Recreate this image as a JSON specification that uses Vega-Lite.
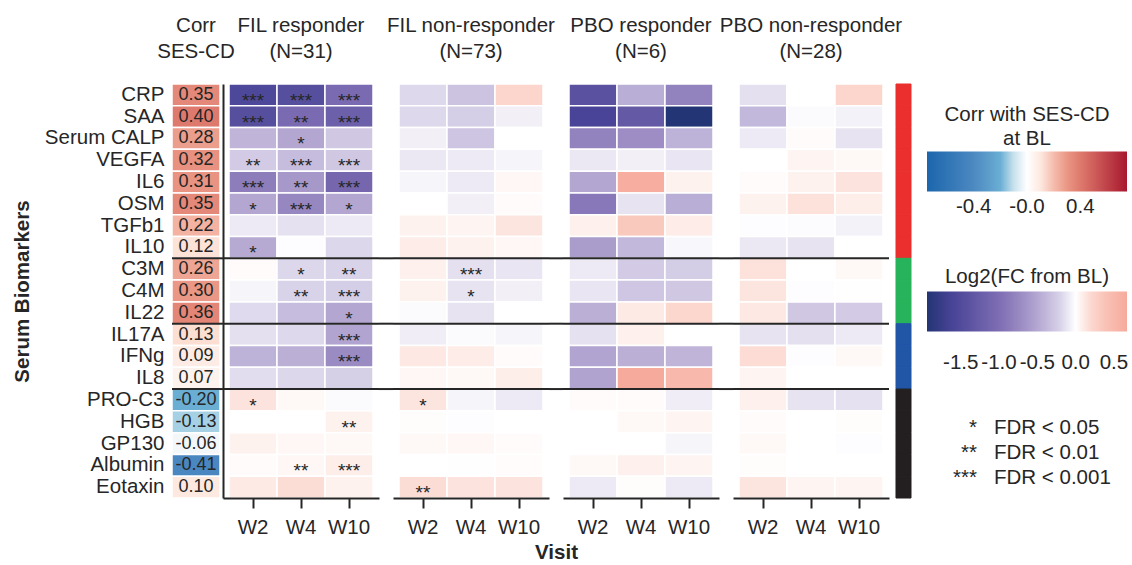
{
"$schema": "https://vega.github.io/schema/vega-lite/v6.json",
"padding": {"left": 12, "top": 15, "right": 0, "bottom": 0},
"datasets": {
"markers": [
{"marker":"CRP","corr":0.35,"group":"Group 1"},
{"marker":"SAA","corr":0.40,"group":"Group 1"},
{"marker":"Serum CALP","corr":0.28,"group":"Group 1"},
{"marker":"VEGFA","corr":0.32,"group":"Group 1"},
{"marker":"IL6","corr":0.31,"group":"Group 1"},
{"marker":"OSM","corr":0.35,"group":"Group 1"},
{"marker":"TGFb1","corr":0.22,"group":"Group 1"},
{"marker":"IL10","corr":0.12,"group":"Group 1"},
{"marker":"C3M","corr":0.26,"group":"Group 2"},
{"marker":"C4M","corr":0.30,"group":"Group 2"},
{"marker":"IL22","corr":0.36,"group":"Group 2"},
{"marker":"IL17A","corr":0.13,"group":"Group 3"},
{"marker":"IFNg","corr":0.09,"group":"Group 3"},
{"marker":"IL8","corr":0.07,"group":"Group 3"},
{"marker":"PRO-C3","corr":-0.20,"group":"Group 4"},
{"marker":"HGB","corr":-0.13,"group":"Group 4"},
{"marker":"GP130","corr":-0.06,"group":"Group 4"},
{"marker":"Albumin","corr":-0.41,"group":"Group 4"},
{"marker":"Eotaxin","corr":0.10,"group":"Group 4"}
],
"fil_r": [
{"marker":"CRP","visit":"W2","log2fc":-1.55,"fdr":"***"},{"marker":"CRP","visit":"W4","log2fc":-1.45,"fdr":"***"},{"marker":"CRP","visit":"W10","log2fc":-1.05,"fdr":"***"},
{"marker":"SAA","visit":"W2","log2fc":-1.45,"fdr":"***"},{"marker":"SAA","visit":"W4","log2fc":-1.05,"fdr":"**"},{"marker":"SAA","visit":"W10","log2fc":-1.2,"fdr":"***"},
{"marker":"Serum CALP","visit":"W2","log2fc":-0.4},{"marker":"Serum CALP","visit":"W4","log2fc":-0.5,"fdr":"*"},{"marker":"Serum CALP","visit":"W10","log2fc":-0.27},
{"marker":"VEGFA","visit":"W2","log2fc":-0.25,"fdr":"**"},{"marker":"VEGFA","visit":"W4","log2fc":-0.35,"fdr":"***"},{"marker":"VEGFA","visit":"W10","log2fc":-0.27,"fdr":"***"},
{"marker":"IL6","visit":"W2","log2fc":-0.85,"fdr":"***"},{"marker":"IL6","visit":"W4","log2fc":-0.62,"fdr":"**"},{"marker":"IL6","visit":"W10","log2fc":-1.1,"fdr":"***"},
{"marker":"OSM","visit":"W2","log2fc":-0.5,"fdr":"*"},{"marker":"OSM","visit":"W4","log2fc":-0.75,"fdr":"***"},{"marker":"OSM","visit":"W10","log2fc":-0.5,"fdr":"*"},
{"marker":"TGFb1","visit":"W2","log2fc":-0.08},{"marker":"TGFb1","visit":"W4","log2fc":-0.12},{"marker":"TGFb1","visit":"W10","log2fc":-0.08},
{"marker":"IL10","visit":"W2","log2fc":-0.48,"fdr":"*"},{"marker":"IL10","visit":"W4","log2fc":-0.01},{"marker":"IL10","visit":"W10","log2fc":-0.18},
{"marker":"C3M","visit":"W2","log2fc":0.02},{"marker":"C3M","visit":"W4","log2fc":-0.18,"fdr":"*"},{"marker":"C3M","visit":"W10","log2fc":-0.2,"fdr":"**"},
{"marker":"C4M","visit":"W2","log2fc":-0.04},{"marker":"C4M","visit":"W4","log2fc":-0.2,"fdr":"**"},{"marker":"C4M","visit":"W10","log2fc":-0.23,"fdr":"***"},
{"marker":"IL22","visit":"W2","log2fc":-0.16},{"marker":"IL22","visit":"W4","log2fc":-0.35},{"marker":"IL22","visit":"W10","log2fc":-0.5,"fdr":"*"},
{"marker":"IL17A","visit":"W2","log2fc":-0.13},{"marker":"IL17A","visit":"W4","log2fc":-0.17},{"marker":"IL17A","visit":"W10","log2fc":-0.52,"fdr":"***"},
{"marker":"IFNg","visit":"W2","log2fc":-0.42},{"marker":"IFNg","visit":"W4","log2fc":-0.44},{"marker":"IFNg","visit":"W10","log2fc":-0.72,"fdr":"***"},
{"marker":"IL8","visit":"W2","log2fc":-0.15},{"marker":"IL8","visit":"W4","log2fc":-0.18},{"marker":"IL8","visit":"W10","log2fc":-0.22},
{"marker":"PRO-C3","visit":"W2","log2fc":0.14,"fdr":"*"},{"marker":"PRO-C3","visit":"W4","log2fc":0.03},{"marker":"PRO-C3","visit":"W10","log2fc":-0.02},
{"marker":"HGB","visit":"W2","log2fc":0.0},{"marker":"HGB","visit":"W4","log2fc":0.0},{"marker":"HGB","visit":"W10","log2fc":0.06,"fdr":"**"},
{"marker":"GP130","visit":"W2","log2fc":0.06},{"marker":"GP130","visit":"W4","log2fc":0.04},{"marker":"GP130","visit":"W10","log2fc":0.03},
{"marker":"Albumin","visit":"W2","log2fc":0.02},{"marker":"Albumin","visit":"W4","log2fc":0.04,"fdr":"**"},{"marker":"Albumin","visit":"W10","log2fc":0.08,"fdr":"***"},
{"marker":"Eotaxin","visit":"W2","log2fc":0.1},{"marker":"Eotaxin","visit":"W4","log2fc":0.17},{"marker":"Eotaxin","visit":"W10","log2fc":0.06}
],
"fil_nr": [
{"marker":"CRP","visit":"W2","log2fc":-0.17},{"marker":"CRP","visit":"W4","log2fc":-0.3},{"marker":"CRP","visit":"W10","log2fc":0.22},
{"marker":"SAA","visit":"W2","log2fc":-0.17},{"marker":"SAA","visit":"W4","log2fc":-0.23},{"marker":"SAA","visit":"W10","log2fc":-0.06},
{"marker":"Serum CALP","visit":"W2","log2fc":-0.06},{"marker":"Serum CALP","visit":"W4","log2fc":-0.29},{"marker":"Serum CALP","visit":"W10","log2fc":0.0},
{"marker":"VEGFA","visit":"W2","log2fc":-0.09},{"marker":"VEGFA","visit":"W4","log2fc":-0.08},{"marker":"VEGFA","visit":"W10","log2fc":-0.04},
{"marker":"IL6","visit":"W2","log2fc":-0.04},{"marker":"IL6","visit":"W4","log2fc":-0.08},{"marker":"IL6","visit":"W10","log2fc":0.04},
{"marker":"OSM","visit":"W2","log2fc":0.0},{"marker":"OSM","visit":"W4","log2fc":-0.06},{"marker":"OSM","visit":"W10","log2fc":0.02},
{"marker":"TGFb1","visit":"W2","log2fc":0.06},{"marker":"TGFb1","visit":"W4","log2fc":0.05},{"marker":"TGFb1","visit":"W10","log2fc":0.13},
{"marker":"IL10","visit":"W2","log2fc":0.09},{"marker":"IL10","visit":"W4","log2fc":0.06},{"marker":"IL10","visit":"W10","log2fc":0.04},
{"marker":"C3M","visit":"W2","log2fc":0.07},{"marker":"C3M","visit":"W4","log2fc":-0.13,"fdr":"***"},{"marker":"C3M","visit":"W10","log2fc":-0.1},
{"marker":"C4M","visit":"W2","log2fc":0.06},{"marker":"C4M","visit":"W4","log2fc":-0.11,"fdr":"*"},{"marker":"C4M","visit":"W10","log2fc":-0.06},
{"marker":"IL22","visit":"W2","log2fc":-0.02},{"marker":"IL22","visit":"W4","log2fc":-0.11},{"marker":"IL22","visit":"W10","log2fc":0.0},
{"marker":"IL17A","visit":"W2","log2fc":-0.07},{"marker":"IL17A","visit":"W4","log2fc":-0.02},{"marker":"IL17A","visit":"W10","log2fc":-0.04},
{"marker":"IFNg","visit":"W2","log2fc":0.11},{"marker":"IFNg","visit":"W4","log2fc":0.09},{"marker":"IFNg","visit":"W10","log2fc":0.02},
{"marker":"IL8","visit":"W2","log2fc":0.04},{"marker":"IL8","visit":"W4","log2fc":0.03},{"marker":"IL8","visit":"W10","log2fc":0.08},
{"marker":"PRO-C3","visit":"W2","log2fc":0.13,"fdr":"*"},{"marker":"PRO-C3","visit":"W4","log2fc":-0.04},{"marker":"PRO-C3","visit":"W10","log2fc":-0.08},
{"marker":"HGB","visit":"W2","log2fc":0.01},{"marker":"HGB","visit":"W4","log2fc":-0.01},{"marker":"HGB","visit":"W10","log2fc":0.0},
{"marker":"GP130","visit":"W2","log2fc":0.03},{"marker":"GP130","visit":"W4","log2fc":0.04},{"marker":"GP130","visit":"W10","log2fc":0.02},
{"marker":"Albumin","visit":"W2","log2fc":0.0},{"marker":"Albumin","visit":"W4","log2fc":-0.005},{"marker":"Albumin","visit":"W10","log2fc":0.015},
{"marker":"Eotaxin","visit":"W2","log2fc":0.17,"fdr":"**"},{"marker":"Eotaxin","visit":"W4","log2fc":0.14},{"marker":"Eotaxin","visit":"W10","log2fc":0.14}
],
"pbo_r": [
{"marker":"CRP","visit":"W2","log2fc":-1.4},{"marker":"CRP","visit":"W4","log2fc":-0.45},{"marker":"CRP","visit":"W10","log2fc":-0.8},
{"marker":"SAA","visit":"W2","log2fc":-1.6},{"marker":"SAA","visit":"W4","log2fc":-1.3},{"marker":"SAA","visit":"W10","log2fc":-1.94},
{"marker":"Serum CALP","visit":"W2","log2fc":-0.8},{"marker":"Serum CALP","visit":"W4","log2fc":-0.7},{"marker":"Serum CALP","visit":"W10","log2fc":-0.42},
{"marker":"VEGFA","visit":"W2","log2fc":-0.09},{"marker":"VEGFA","visit":"W4","log2fc":-0.06},{"marker":"VEGFA","visit":"W10","log2fc":-0.1},
{"marker":"IL6","visit":"W2","log2fc":-0.5},{"marker":"IL6","visit":"W4","log2fc":0.62},{"marker":"IL6","visit":"W10","log2fc":0.06},
{"marker":"OSM","visit":"W2","log2fc":-0.9},{"marker":"OSM","visit":"W4","log2fc":-0.11},{"marker":"OSM","visit":"W10","log2fc":-0.45},
{"marker":"TGFb1","visit":"W2","log2fc":0.07},{"marker":"TGFb1","visit":"W4","log2fc":0.3},{"marker":"TGFb1","visit":"W10","log2fc":0.09},
{"marker":"IL10","visit":"W2","log2fc":-0.58},{"marker":"IL10","visit":"W4","log2fc":-0.38},{"marker":"IL10","visit":"W10","log2fc":-0.03},
{"marker":"C3M","visit":"W2","log2fc":-0.08},{"marker":"C3M","visit":"W4","log2fc":-0.25},{"marker":"C3M","visit":"W10","log2fc":-0.24},
{"marker":"C4M","visit":"W2","log2fc":-0.1},{"marker":"C4M","visit":"W4","log2fc":-0.28},{"marker":"C4M","visit":"W10","log2fc":-0.27},
{"marker":"IL22","visit":"W2","log2fc":-0.44},{"marker":"IL22","visit":"W4","log2fc":0.1},{"marker":"IL22","visit":"W10","log2fc":0.21},
{"marker":"IL17A","visit":"W2","log2fc":-0.12},{"marker":"IL17A","visit":"W4","log2fc":0.07},{"marker":"IL17A","visit":"W10","log2fc":0.0},
{"marker":"IFNg","visit":"W2","log2fc":-0.52},{"marker":"IFNg","visit":"W4","log2fc":-0.44},{"marker":"IFNg","visit":"W10","log2fc":-0.4},
{"marker":"IL8","visit":"W2","log2fc":-0.53},{"marker":"IL8","visit":"W4","log2fc":0.67},{"marker":"IL8","visit":"W10","log2fc":0.5},
{"marker":"PRO-C3","visit":"W2","log2fc":0.02},{"marker":"PRO-C3","visit":"W4","log2fc":0.02},{"marker":"PRO-C3","visit":"W10","log2fc":-0.07},
{"marker":"HGB","visit":"W2","log2fc":0.0},{"marker":"HGB","visit":"W4","log2fc":0.03},{"marker":"HGB","visit":"W10","log2fc":0.05},
{"marker":"GP130","visit":"W2","log2fc":0.0},{"marker":"GP130","visit":"W4","log2fc":0.0},{"marker":"GP130","visit":"W10","log2fc":-0.04},
{"marker":"Albumin","visit":"W2","log2fc":0.03},{"marker":"Albumin","visit":"W4","log2fc":0.07},{"marker":"Albumin","visit":"W10","log2fc":0.05},
{"marker":"Eotaxin","visit":"W2","log2fc":-0.08},{"marker":"Eotaxin","visit":"W4","log2fc":0.01},{"marker":"Eotaxin","visit":"W10","log2fc":-0.08}
],
"pbo_nr": [
{"marker":"CRP","visit":"W2","log2fc":-0.13},{"marker":"CRP","visit":"W4","log2fc":0.0},{"marker":"CRP","visit":"W10","log2fc":0.22},
{"marker":"SAA","visit":"W2","log2fc":-0.38},{"marker":"SAA","visit":"W4","log2fc":-0.02},{"marker":"SAA","visit":"W10","log2fc":-0.05},
{"marker":"Serum CALP","visit":"W2","log2fc":-0.08},{"marker":"Serum CALP","visit":"W4","log2fc":0.02},{"marker":"Serum CALP","visit":"W10","log2fc":-0.11},
{"marker":"VEGFA","visit":"W2","log2fc":0.0},{"marker":"VEGFA","visit":"W4","log2fc":0.05},{"marker":"VEGFA","visit":"W10","log2fc":0.03},
{"marker":"IL6","visit":"W2","log2fc":0.02},{"marker":"IL6","visit":"W4","log2fc":0.06},{"marker":"IL6","visit":"W10","log2fc":0.14},
{"marker":"OSM","visit":"W2","log2fc":0.06},{"marker":"OSM","visit":"W4","log2fc":0.15},{"marker":"OSM","visit":"W10","log2fc":0.08},
{"marker":"TGFb1","visit":"W2","log2fc":-0.01},{"marker":"TGFb1","visit":"W4","log2fc":-0.015},{"marker":"TGFb1","visit":"W10","log2fc":-0.05},
{"marker":"IL10","visit":"W2","log2fc":-0.09},{"marker":"IL10","visit":"W4","log2fc":-0.11},{"marker":"IL10","visit":"W10","log2fc":0.0},
{"marker":"C3M","visit":"W2","log2fc":0.15},{"marker":"C3M","visit":"W4","log2fc":0.0},{"marker":"C3M","visit":"W10","log2fc":0.03},
{"marker":"C4M","visit":"W2","log2fc":0.13},{"marker":"C4M","visit":"W4","log2fc":-0.01},{"marker":"C4M","visit":"W10","log2fc":0.005},
{"marker":"IL22","visit":"W2","log2fc":0.11},{"marker":"IL22","visit":"W4","log2fc":-0.27},{"marker":"IL22","visit":"W10","log2fc":-0.25},
{"marker":"IL17A","visit":"W2","log2fc":-0.11},{"marker":"IL17A","visit":"W4","log2fc":-0.13},{"marker":"IL17A","visit":"W10","log2fc":-0.08},
{"marker":"IFNg","visit":"W2","log2fc":0.18},{"marker":"IFNg","visit":"W4","log2fc":-0.01},{"marker":"IFNg","visit":"W10","log2fc":0.03},
{"marker":"IL8","visit":"W2","log2fc":0.05},{"marker":"IL8","visit":"W4","log2fc":0.0},{"marker":"IL8","visit":"W10","log2fc":0.0},
{"marker":"PRO-C3","visit":"W2","log2fc":0.07},{"marker":"PRO-C3","visit":"W4","log2fc":-0.11},{"marker":"PRO-C3","visit":"W10","log2fc":-0.12},
{"marker":"HGB","visit":"W2","log2fc":0.02},{"marker":"HGB","visit":"W4","log2fc":0.0},{"marker":"HGB","visit":"W10","log2fc":0.01},
{"marker":"GP130","visit":"W2","log2fc":0.03},{"marker":"GP130","visit":"W4","log2fc":0.0},{"marker":"GP130","visit":"W10","log2fc":-0.01},
{"marker":"Albumin","visit":"W2","log2fc":0.01},{"marker":"Albumin","visit":"W4","log2fc":0.0},{"marker":"Albumin","visit":"W10","log2fc":0.0},
{"marker":"Eotaxin","visit":"W2","log2fc":0.13},{"marker":"Eotaxin","visit":"W4","log2fc":0.05},{"marker":"Eotaxin","visit":"W10","log2fc":0.05}
],
"fdr_key": [
{"stars":"*","label":"FDR < 0.05"},
{"stars":"**","label":"FDR < 0.01"},
{"stars":"***","label":"FDR < 0.001"}
]
},
"spacing": 0,
"bounds": "flush",
"hconcat": [
{
"width": 48, "height": 414,
"title": {"text": ["Corr", "SES-CD"]},
"data": {"name": "markers"},
"encoding": {"y": {"field": "marker", "type": "nominal",
  "scale": {"domain": ["CRP","SAA","Serum CALP","VEGFA","IL6","OSM","TGFb1","IL10","C3M","C4M","IL22","IL17A","IFNg","IL8","PRO-C3","HGB","GP130","Albumin","Eotaxin"], "paddingInner": 0, "paddingOuter": 0},
  "axis": {"title": "Serum Biomarkers", "titleFontSize": 20.5, "titleFontWeight": "bold", "titlePadding": 12, "labelFontSize": 20.5, "labelPadding": 8, "ticks": false, "tickSize": 0, "domain": false, "labelLimit": 300}}},
"layer": [
 {"mark": {"type": "rect", "stroke": "#ffffff", "strokeWidth": 1.5},
  "encoding": {"fill": {"field": "corr", "type": "quantitative",
    "scale": {"domain": [-0.75,-0.41,-0.2,-0.13,-0.06,0,0.07,0.13,0.22,0.3,0.4,0.75], "range": ["#1c66ad","#4a87c0","#6aaed4","#a6d0e4","#f4f7fa","#ffffff","#fdf3ee","#fcdfd2","#f3b2a2","#ea9785","#de7a6d","#a8182e"], "interpolate": "rgb"},
    "legend": {"title": ["Corr with SES-CD", "at BL"], "orient": "none", "legendX": 755, "legendY": 21, "direction": "horizontal", "gradientLength": 200, "gradientThickness": 40, "gradientStrokeWidth": 0, "padding": 0, "titleFontSize": 20.5, "titleFontWeight": "normal", "titleColor": "#262626", "titleAnchor": "middle", "titleLineHeight": 24, "titlePadding": 2, "labelFontSize": 20.5, "labelColor": "#262626", "labelOffset": 5, "labelOverlap": false, "values": [-0.4, 0, 0.4], "labelExpr": "datum.value === 0 ? '-0.0' : format(datum.value, '.1f')"}}}},
 {"mark": {"type": "text", "fontSize": 18, "color": "#262626"},
  "encoding": {"text": {"field": "corr", "type": "quantitative", "format": ".2f"}}},
 {"transform": [{"window": [{"op": "lag", "field": "group", "as": "prev"}]}, {"filter": "datum.prev != null && datum.prev !== datum.group"}],
  "mark": {"type": "rule", "color": "#262626", "strokeWidth": 2},
  "encoding": {"y": {"field": "marker", "type": "nominal", "bandPosition": 0}}}
]
},
{
"width": 3, "height": 414,
"data": {"name": "markers"},
"transform": [{"window": [{"op": "lag", "field": "group", "as": "prev"}]}, {"filter": "datum.prev != null && datum.prev !== datum.group"}],
"mark": {"type": "rule", "color": "#262626", "strokeWidth": 2},
"encoding": {"y": {"field": "marker", "type": "nominal", "bandPosition": 0,
  "scale": {"domain": ["CRP","SAA","Serum CALP","VEGFA","IL6","OSM","TGFb1","IL10","C3M","C4M","IL22","IL17A","IFNg","IL8","PRO-C3","HGB","GP130","Albumin","Eotaxin"], "paddingInner": 0, "paddingOuter": 0}, "axis": null}}
},
{
"width": 156, "height": 414,
"title": {"text": ["FIL responder", "(N=31)"]},
"data": {"name": "fil_r"},
"encoding": {"y": {"field": "marker", "type": "nominal",
  "scale": {"domain": ["CRP","SAA","Serum CALP","VEGFA","IL6","OSM","TGFb1","IL10","C3M","C4M","IL22","IL17A","IFNg","IL8","PRO-C3","HGB","GP130","Albumin","Eotaxin"], "paddingInner": 0, "paddingOuter": 0},
  "axis": {"title": null, "labels": false, "ticks": false, "domain": true, "domainWidth": 2, "domainColor": "#262626"}}},
"layer": [
 {"mark": {"type": "rect", "stroke": "#ffffff", "strokeWidth": 1.5},
  "encoding": {
   "x": {"field": "visit", "type": "nominal", "title": null, "scale": {"domain": ["W2","W4","W10"], "paddingInner": 0, "paddingOuter": 0.125},
     "axis": {"labelAngle": 0, "labelFontSize": 20.5, "tickSize": 10, "tickWidth": 2, "tickColor": "#262626", "domainWidth": 2, "domainColor": "#262626", "labelPadding": 9}},
   "color": {"field": "log2fc", "type": "quantitative",
     "scale": {"domain": [-1.94,-1.6,-1.4,-1.0,-0.75,-0.5,-0.3,-0.2,-0.1,0,0.1,0.2,0.3,0.5,0.67], "range": ["#233574","#4a4498","#5a52a0","#7e6db3","#9787c1","#b3a7d1","#ccc3e1","#d9d3e9","#e9e5f2","#ffffff","#fdeae5","#fcd8d0","#fac9be","#f8b8ab","#f6aa9c"], "interpolate": "rgb"},
     "legend": {"title": "Log2(FC from BL)", "orient": "none", "legendX": 755, "legendY": 183, "direction": "horizontal", "gradientLength": 200, "gradientThickness": 40, "gradientStrokeWidth": 0, "padding": 0, "titleFontSize": 20.5, "titleFontWeight": "normal", "titleColor": "#262626", "titleAnchor": "middle", "titlePadding": 4, "labelFontSize": 20.5, "labelColor": "#262626", "labelOffset": 21, "labelOverlap": false, "values": [-1.5, -1, -0.5, 0, 0.5], "format": ".1f"}}}},
 {"transform": [{"filter": "datum.fdr"}],
  "mark": {"type": "text", "fontSize": 19, "color": "#262626", "dy": 6},
  "encoding": {"x": {"field": "visit", "type": "nominal", "title": null}, "text": {"field": "fdr"}}},
 {"data": {"name": "markers"},
  "transform": [{"window": [{"op": "lag", "field": "group", "as": "prev"}]}, {"filter": "datum.prev != null && datum.prev !== datum.group"}],
  "mark": {"type": "rule", "color": "#262626", "strokeWidth": 2},
  "encoding": {"y": {"field": "marker", "type": "nominal", "bandPosition": 0}}}
]
},
{
"width": 14, "height": 414,
"data": {"name": "markers"},
"transform": [{"window": [{"op": "lag", "field": "group", "as": "prev"}]}, {"filter": "datum.prev != null && datum.prev !== datum.group"}],
"mark": {"type": "rule", "color": "#262626", "strokeWidth": 2},
"encoding": {"y": {"field": "marker", "type": "nominal", "bandPosition": 0,
  "scale": {"domain": ["CRP","SAA","Serum CALP","VEGFA","IL6","OSM","TGFb1","IL10","C3M","C4M","IL22","IL17A","IFNg","IL8","PRO-C3","HGB","GP130","Albumin","Eotaxin"], "paddingInner": 0, "paddingOuter": 0}, "axis": null}}
},
{
"width": 156, "height": 414,
"title": {"text": ["FIL non-responder", "(N=73)"]},
"data": {"name": "fil_nr"},
"encoding": {"y": {"field": "marker", "type": "nominal",
  "scale": {"domain": ["CRP","SAA","Serum CALP","VEGFA","IL6","OSM","TGFb1","IL10","C3M","C4M","IL22","IL17A","IFNg","IL8","PRO-C3","HGB","GP130","Albumin","Eotaxin"], "paddingInner": 0, "paddingOuter": 0},
  "axis": null}},
"layer": [
 {"mark": {"type": "rect", "stroke": "#ffffff", "strokeWidth": 1.5},
  "encoding": {
   "x": {"field": "visit", "type": "nominal", "title": "Visit", "scale": {"domain": ["W2","W4","W10"], "paddingInner": 0, "paddingOuter": 0.125},
     "axis": {"labelAngle": 0, "labelFontSize": 20.5, "tickSize": 10, "tickWidth": 2, "tickColor": "#262626", "domainWidth": 2, "domainColor": "#262626", "labelPadding": 9, "titleFontSize": 20.5, "titleFontWeight": "bold", "titleX": 163, "titlePadding": 5}},
   "color": {"field": "log2fc", "type": "quantitative",
     "scale": {"domain": [-1.94,-1.6,-1.4,-1.0,-0.75,-0.5,-0.3,-0.2,-0.1,0,0.1,0.2,0.3,0.5,0.67], "range": ["#233574","#4a4498","#5a52a0","#7e6db3","#9787c1","#b3a7d1","#ccc3e1","#d9d3e9","#e9e5f2","#ffffff","#fdeae5","#fcd8d0","#fac9be","#f8b8ab","#f6aa9c"], "interpolate": "rgb"}}}},
 {"transform": [{"filter": "datum.fdr"}],
  "mark": {"type": "text", "fontSize": 19, "color": "#262626", "dy": 6},
  "encoding": {"x": {"field": "visit", "type": "nominal"}, "text": {"field": "fdr"}}},
 {"data": {"name": "markers"},
  "transform": [{"window": [{"op": "lag", "field": "group", "as": "prev"}]}, {"filter": "datum.prev != null && datum.prev !== datum.group"}],
  "mark": {"type": "rule", "color": "#262626", "strokeWidth": 2},
  "encoding": {"y": {"field": "marker", "type": "nominal", "bandPosition": 0}}}
]
},
{
"width": 14, "height": 414,
"data": {"name": "markers"},
"transform": [{"window": [{"op": "lag", "field": "group", "as": "prev"}]}, {"filter": "datum.prev != null && datum.prev !== datum.group"}],
"mark": {"type": "rule", "color": "#262626", "strokeWidth": 2},
"encoding": {"y": {"field": "marker", "type": "nominal", "bandPosition": 0,
  "scale": {"domain": ["CRP","SAA","Serum CALP","VEGFA","IL6","OSM","TGFb1","IL10","C3M","C4M","IL22","IL17A","IFNg","IL8","PRO-C3","HGB","GP130","Albumin","Eotaxin"], "paddingInner": 0, "paddingOuter": 0}, "axis": null}}
},
{
"width": 156, "height": 414,
"title": {"text": ["PBO responder", "(N=6)"]},
"data": {"name": "pbo_r"},
"encoding": {"y": {"field": "marker", "type": "nominal",
  "scale": {"domain": ["CRP","SAA","Serum CALP","VEGFA","IL6","OSM","TGFb1","IL10","C3M","C4M","IL22","IL17A","IFNg","IL8","PRO-C3","HGB","GP130","Albumin","Eotaxin"], "paddingInner": 0, "paddingOuter": 0},
  "axis": null}},
"layer": [
 {"mark": {"type": "rect", "stroke": "#ffffff", "strokeWidth": 1.5},
  "encoding": {
   "x": {"field": "visit", "type": "nominal", "title": null, "scale": {"domain": ["W2","W4","W10"], "paddingInner": 0, "paddingOuter": 0.125},
     "axis": {"labelAngle": 0, "labelFontSize": 20.5, "tickSize": 10, "tickWidth": 2, "tickColor": "#262626", "domainWidth": 2, "domainColor": "#262626", "labelPadding": 9}},
   "color": {"field": "log2fc", "type": "quantitative",
     "scale": {"domain": [-1.94,-1.6,-1.4,-1.0,-0.75,-0.5,-0.3,-0.2,-0.1,0,0.1,0.2,0.3,0.5,0.67], "range": ["#233574","#4a4498","#5a52a0","#7e6db3","#9787c1","#b3a7d1","#ccc3e1","#d9d3e9","#e9e5f2","#ffffff","#fdeae5","#fcd8d0","#fac9be","#f8b8ab","#f6aa9c"], "interpolate": "rgb"}}}},
 {"data": {"name": "markers"},
  "transform": [{"window": [{"op": "lag", "field": "group", "as": "prev"}]}, {"filter": "datum.prev != null && datum.prev !== datum.group"}],
  "mark": {"type": "rule", "color": "#262626", "strokeWidth": 2},
  "encoding": {"y": {"field": "marker", "type": "nominal", "bandPosition": 0}}}
]
},
{
"width": 14, "height": 414,
"data": {"name": "markers"},
"transform": [{"window": [{"op": "lag", "field": "group", "as": "prev"}]}, {"filter": "datum.prev != null && datum.prev !== datum.group"}],
"mark": {"type": "rule", "color": "#262626", "strokeWidth": 2},
"encoding": {"y": {"field": "marker", "type": "nominal", "bandPosition": 0,
  "scale": {"domain": ["CRP","SAA","Serum CALP","VEGFA","IL6","OSM","TGFb1","IL10","C3M","C4M","IL22","IL17A","IFNg","IL8","PRO-C3","HGB","GP130","Albumin","Eotaxin"], "paddingInner": 0, "paddingOuter": 0}, "axis": null}}
},
{
"width": 156, "height": 414,
"title": {"text": ["PBO non-responder", "(N=28)"]},
"data": {"name": "pbo_nr"},
"encoding": {"y": {"field": "marker", "type": "nominal",
  "scale": {"domain": ["CRP","SAA","Serum CALP","VEGFA","IL6","OSM","TGFb1","IL10","C3M","C4M","IL22","IL17A","IFNg","IL8","PRO-C3","HGB","GP130","Albumin","Eotaxin"], "paddingInner": 0, "paddingOuter": 0},
  "axis": null}},
"layer": [
 {"mark": {"type": "rect", "stroke": "#ffffff", "strokeWidth": 1.5},
  "encoding": {
   "x": {"field": "visit", "type": "nominal", "title": null, "scale": {"domain": ["W2","W4","W10"], "paddingInner": 0, "paddingOuter": 0.125},
     "axis": {"labelAngle": 0, "labelFontSize": 20.5, "tickSize": 10, "tickWidth": 2, "tickColor": "#262626", "domainWidth": 2, "domainColor": "#262626", "labelPadding": 9}},
   "color": {"field": "log2fc", "type": "quantitative",
     "scale": {"domain": [-1.94,-1.6,-1.4,-1.0,-0.75,-0.5,-0.3,-0.2,-0.1,0,0.1,0.2,0.3,0.5,0.67], "range": ["#233574","#4a4498","#5a52a0","#7e6db3","#9787c1","#b3a7d1","#ccc3e1","#d9d3e9","#e9e5f2","#ffffff","#fdeae5","#fcd8d0","#fac9be","#f8b8ab","#f6aa9c"], "interpolate": "rgb"}}}},
 {"data": {"name": "markers"},
  "transform": [{"window": [{"op": "lag", "field": "group", "as": "prev"}]}, {"filter": "datum.prev != null && datum.prev !== datum.group"}],
  "mark": {"type": "rule", "color": "#262626", "strokeWidth": 2},
  "encoding": {"y": {"field": "marker", "type": "nominal", "bandPosition": 0}}}
]
},
{
"width": 22, "height": 414,
"data": {"name": "markers"},
"mark": {"type": "rect", "strokeWidth": 1},
"encoding": {
 "x": {"datum": "Biomarker group", "type": "nominal", "scale": {"type": "band", "paddingInner": 0, "paddingOuter": 0.2333, "align": 1}, "axis": null},
 "y": {"field": "marker", "type": "nominal",
  "scale": {"domain": ["CRP","SAA","Serum CALP","VEGFA","IL6","OSM","TGFb1","IL10","C3M","C4M","IL22","IL17A","IFNg","IL8","PRO-C3","HGB","GP130","Albumin","Eotaxin"], "paddingInner": 0, "paddingOuter": 0},
  "axis": null},
 "color": {"condition": [{"test": "datum.group === 'Group 1'", "value": "#ea2f2e"}, {"test": "datum.group === 'Group 2'", "value": "#27b35b"}, {"test": "datum.group === 'Group 3'", "value": "#2156a6"}], "value": "#231f20"},
 "stroke": {"condition": [{"test": "datum.group === 'Group 1'", "value": "#ea2f2e"}, {"test": "datum.group === 'Group 2'", "value": "#27b35b"}, {"test": "datum.group === 'Group 3'", "value": "#2156a6"}], "value": "#231f20"}
}
},
{
"width": 83, "height": 414,
"data": {"name": "fdr_key"},
"encoding": {"y": {"field": "stars", "type": "nominal", "scale": {"type": "point", "domain": ["*","**","***"], "range": [350, 400], "padding": 0}, "axis": null}},
"layer": [
 {"mark": {"type": "text", "align": "right", "baseline": "alphabetic", "fontSize": 20.5, "color": "#262626"},
  "encoding": {"x": {"datum": "stars", "type": "nominal", "scale": {"type": "point", "domain": ["stars","label"], "range": [66, 83], "padding": 0}, "axis": null}, "text": {"field": "stars"}}},
 {"mark": {"type": "text", "align": "left", "baseline": "alphabetic", "fontSize": 20.5, "color": "#262626"},
  "encoding": {"x": {"datum": "label", "type": "nominal"}, "text": {"field": "label"}}}
]
}
],
"config": {
 "font": "Liberation Sans",
 "view": {"stroke": null},
 "locale": {"number": {"decimal": ".", "thousands": ",", "grouping": [3], "currency": ["$", ""], "minus": "-"}},
 "title": {"fontSize": 20.5, "fontWeight": "normal", "color": "#262626", "lineHeight": 26, "offset": 21, "anchor": "middle", "frame": "group"},
 "axis": {"labelColor": "#262626", "titleColor": "#262626"},
 "legend": {"labelFont": "Liberation Sans", "titleFont": "Liberation Sans"}
}
}
